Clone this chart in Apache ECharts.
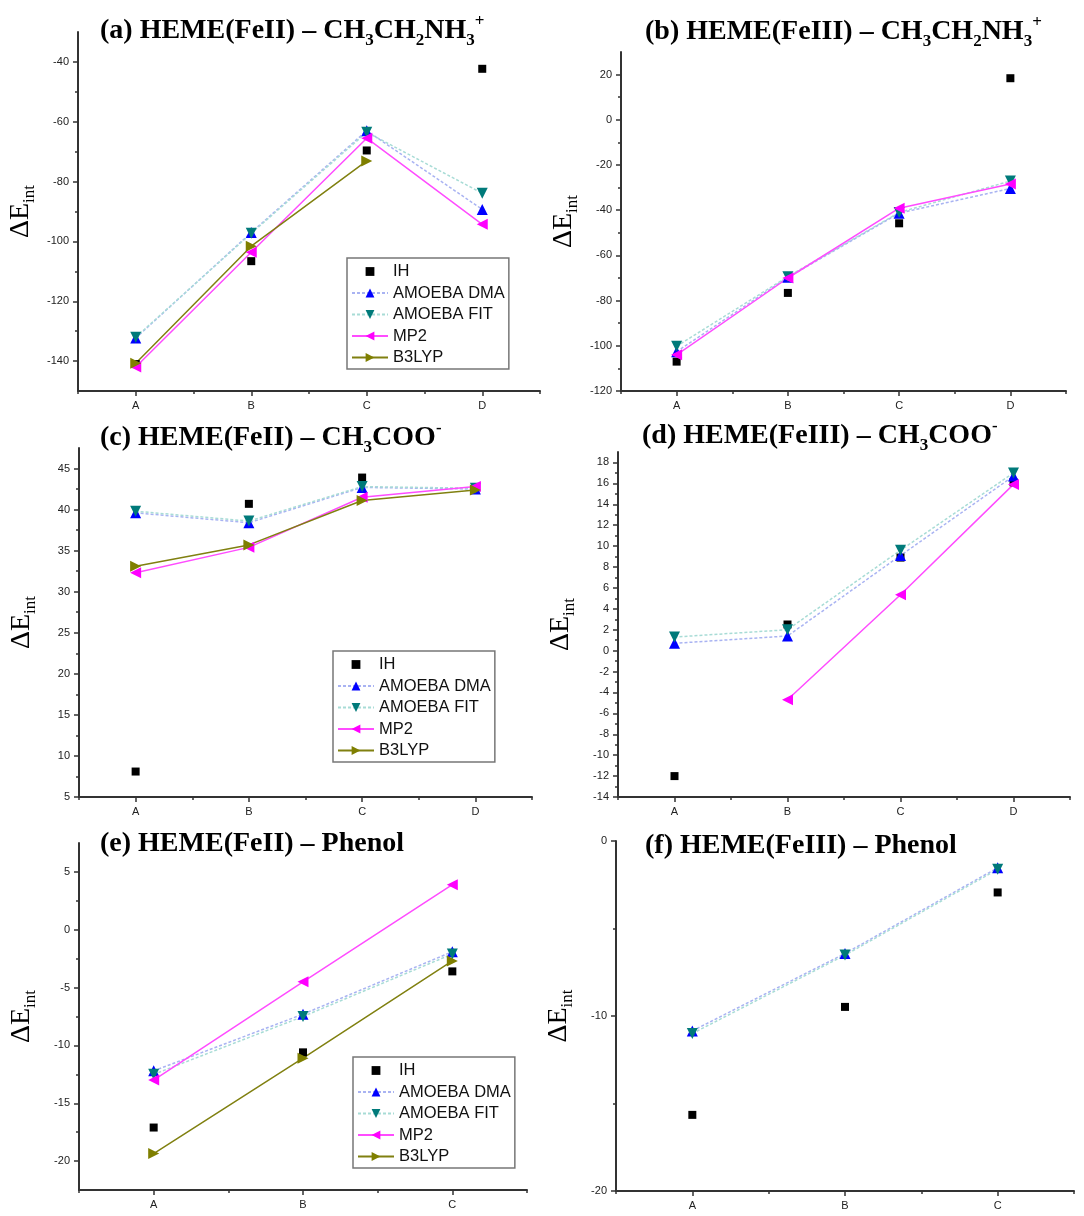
<!DOCTYPE html>
<html>
<head>
<meta charset="utf-8">
<script src="https://cdn.jsdelivr.net/npm/echarts@6/dist/echarts.min.js"></script>
<style>
html,body{margin:0;padding:0;background:#fff;}
#c{width:1084px;height:1216px;}
</style>
</head>
<body>
<div id="c"></div>
<script>
// ---- categories ----
const cats4 = ['A', 'B', 'C', 'D'];
const cats3 = ['A', 'B', 'C'];

// ---- (a) HEME(FeII) – CH3CH2NH3+ ----
const ihA    = [-141.0, -106.6, -69.6, -42.3];
const dmaA   = [-132.3, -97.0, -63.0, -89.3];
const fitA   = [-132.0, -97.3, -63.5, -83.9];
const mp2A   = [-142.0, -103.6, -65.5, -94.3];
const b3lypA = [-140.7, -101.6, -73.1, null];

// ---- (b) HEME(FeIII) – CH3CH2NH3+ ----
const ihB    = [-107.0, -76.6, -45.8, 18.4];
const dmaB   = [-102.6, -69.7, -41.3, -30.4];
const fitB   = [-100.2, -69.4, -41.0, -27.1];
const mp2B   = [-104.0, -70.0, -39.1, -28.4];

// ---- (c) HEME(FeII) – CH3COO- ----
const ihC    = [8.1, 40.7, 43.9, 42.6];
const dmaC   = [39.6, 38.4, 42.7, 42.5];
const fitC   = [39.8, 38.6, 42.8, 42.6];
const mp2C   = [32.3, 35.4, 41.5, 42.8];
const b3lypC = [33.1, 35.7, 41.1, 42.4];

// ---- (d) HEME(FeIII) – CH3COO- ----
const ihD    = [-12.0, 2.5, 8.9, 16.1];
const dmaD   = [0.7, 1.4, 9.1, 16.7];
const fitD   = [1.3, 2.0, 9.6, 17.0];
const mp2D   = [null, -4.7, 5.35, 15.9];

// ---- (e) HEME(FeII) – Phenol ----
const ihE    = [-17.1, -10.6, -3.6];
const dmaE   = [-12.2, -7.3, -1.9];
const fitE   = [-12.5, -7.5, -2.1];
const mp2E   = [-13.0, -4.5, 3.9];
const b3lypE = [-19.35, -11.1, -2.7];

// ---- (f) HEME(FeIII) – Phenol ----
const ihF    = [-15.65, -9.48, -2.94];
const dmaF   = [-10.85, -6.43, -1.53];
const fitF   = [-11.0, -6.52, -1.62];

// ---- y tick labels (major) and minor ticks ----
const yTicksA = [-140, -120, -100, -80, -60, -40];
const yMinorA = [-130, -110, -90, -70, -50];
const yTicksB = [-120, -100, -80, -60, -40, -20, 0, 20];
const yMinorB = [-110, -90, -70, -50, -30, -10, 10];
const yTicksC = [5, 10, 15, 20, 25, 30, 35, 40, 45];
const yMinorC = [7.5, 12.5, 17.5, 22.5, 27.5, 32.5, 37.5, 42.5];
const yTicksD = [-14, -12, -10, -8, -6, -4, -2, 0, 2, 4, 6, 8, 10, 12, 14, 16, 18];
const yMinorD = [-13, -11, -9, -7, -5, -3, -1, 1, 3, 5, 7, 9, 11, 13, 15, 17];
const yTicksE = [-20, -15, -10, -5, 0, 5];
const yMinorE = [-17.5, -12.5, -7.5, -2.5, 2.5];
const yTicksF = [-20, -10, 0];
const yMinorF = [-15, -5];

const seriesNames = ['IH', 'AMOEBA DMA', 'AMOEBA FIT', 'MP2', 'B3LYP'];

// ---- styles ----
const SERIF = 'Liberation Serif, Times New Roman, serif';
const SANS = 'Liberation Sans, Arial, sans-serif';
const AX = '#333';

const seriesStyle = {
  'IH': {symbol: 'rect', size: 8, rot: 0, color: '#000', line: {color: '#000', width: 1, opacity: 0}},
  'AMOEBA DMA': {symbol: 'triangle', size: 11, rot: 0, color: '#0000ff', line: {color: '#a9b3f2', width: 1.5, type: [3, 2]}},
  'AMOEBA FIT': {symbol: 'triangle', size: 11, rot: 180, color: '#007a7a', line: {color: '#a8dcd6', width: 1.5, type: [3, 2]}},
  'MP2': {symbol: 'triangle', size: 11, rot: 90, color: '#ff00ff', line: {color: '#ff4cff', width: 1.5, type: 'solid'}},
  'B3LYP': {symbol: 'triangle', size: 11, rot: -90, color: '#7f7f00', line: {color: '#808010', width: 1.5, type: 'solid'}}
};

const panels = [
  {title: '(a) HEME(FeII) – CH{s|3}CH{s|2}NH{s|3}{p|+}', tl: 100, tt: 13,
   grid: {left: 78, top: 32, width: 462, height: 359}, cats: cats4,
   ymin: -150, ymax: -30, ticks: yTicksA, minor: yMinorA,
   data: {'IH': ihA, 'AMOEBA DMA': dmaA, 'AMOEBA FIT': fitA, 'MP2': mp2A, 'B3LYP': b3lypA},
   legend: {left: 347, top: 258}},
  {title: '(b) HEME(FeIII) – CH{s|3}CH{s|2}NH{s|3}{p|+}', tl: 645, tt: 14,
   grid: {left: 621, top: 52, width: 445, height: 339}, cats: cats4,
   ymin: -120, ymax: 30, ticks: yTicksB, minor: yMinorB,
   data: {'IH': ihB, 'AMOEBA DMA': dmaB, 'AMOEBA FIT': fitB, 'MP2': mp2B}},
  {title: '(c) HEME(FeII) – CH{s|3}COO{p|-}', tl: 100, tt: 420,
   grid: {left: 79, top: 448, width: 453, height: 349}, cats: cats4,
   ymin: 5, ymax: 47.5, ticks: yTicksC, minor: yMinorC,
   data: {'IH': ihC, 'AMOEBA DMA': dmaC, 'AMOEBA FIT': fitC, 'MP2': mp2C, 'B3LYP': b3lypC},
   legend: {left: 333, top: 651}},
  {title: '(d) HEME(FeIII) – CH{s|3}COO{p|-}', tl: 642, tt: 418,
   grid: {left: 618, top: 452, width: 452, height: 345}, cats: cats4,
   ymin: -14, ymax: 19, ticks: yTicksD, minor: yMinorD,
   data: {'IH': ihD, 'AMOEBA DMA': dmaD, 'AMOEBA FIT': fitD, 'MP2': mp2D}},
  {title: '(e) HEME(FeII) – Phenol', tl: 100, tt: 826,
   grid: {left: 79, top: 843, width: 448, height: 347}, cats: cats3,
   ymin: -22.5, ymax: 7.5, ticks: yTicksE, minor: yMinorE,
   data: {'IH': ihE, 'AMOEBA DMA': dmaE, 'AMOEBA FIT': fitE, 'MP2': mp2E, 'B3LYP': b3lypE},
   legend: {left: 353, top: 1057}},
  {title: '(f) HEME(FeIII) – Phenol', tl: 645, tt: 828,
   grid: {left: 616, top: 841, width: 458, height: 350}, cats: cats3,
   ymin: -20, ymax: 0, ticks: yTicksF, minor: yMinorF,
   data: {'IH': ihF, 'AMOEBA DMA': dmaF, 'AMOEBA FIT': fitF}}
];

const titleRich = {
  s: {fontFamily: SERIF, fontWeight: 'bold', fontSize: 17, lineHeight: 17, verticalAlign: 'bottom', color: '#000'},
  p: {fontFamily: SERIF, fontWeight: 'bold', fontSize: 17, lineHeight: 17, verticalAlign: 'top', color: '#000'}
};

const option = {
  backgroundColor: '#fff',
  animation: false,
  title: [], grid: [], xAxis: [], yAxis: [], series: [], legend: []
};

panels.forEach((p, i) => {
  option.title.push({
    text: p.title, left: p.tl, top: p.tt, padding: 0,
    textStyle: {fontFamily: SERIF, fontWeight: 'bold', fontSize: 28, lineHeight: 36, color: '#000', rich: titleRich}
  });
  option.grid.push(Object.assign({containLabel: false}, p.grid));
  // main category axis: ticks at labels
  option.xAxis.push({
    type: 'category', gridIndex: i, data: p.cats, boundaryGap: true,
    axisLine: {show: true, onZero: false, lineStyle: {color: AX, width: 2}},
    axisTick: {show: true, alignWithLabel: true, length: 5, lineStyle: {color: AX, width: 1.5}},
    axisLabel: {fontFamily: SANS, fontSize: 11, color: '#222', margin: 9},
    splitLine: {show: false}
  });
  // overlay: small ticks at category boundaries
  option.xAxis.push({
    type: 'category', gridIndex: i, data: p.cats, boundaryGap: true, position: 'bottom',
    axisLine: {show: false, onZero: false},
    axisTick: {show: true, alignWithLabel: false, length: 3, lineStyle: {color: AX, width: 1.5}},
    axisLabel: {show: false}, splitLine: {show: false}
  });
  option.yAxis.push({
    type: 'value', gridIndex: i, min: p.ymin, max: p.ymax,
    name: '{d|ΔE}{i|int}', nameLocation: 'middle', nameGap: 40,
    nameTextStyle: {
      fontFamily: SERIF, fontSize: 28, lineHeight: 34, color: '#000',
      rich: {
        d: {fontFamily: SERIF, fontSize: 28, lineHeight: 34, color: '#000'},
        i: {fontFamily: SERIF, fontSize: 17, lineHeight: 17, verticalAlign: 'bottom', color: '#000'}
      }
    },
    axisLine: {show: true, onZero: false, lineStyle: {color: AX, width: 2}},
    axisTick: {show: true, length: 5, customValues: p.ticks, lineStyle: {color: AX, width: 1.5}},
    axisLabel: {customValues: p.ticks, fontFamily: SANS, fontSize: 11, color: '#222', margin: 9},
    splitLine: {show: false}
  });
  option.yAxis.push({
    type: 'value', gridIndex: i, min: p.ymin, max: p.ymax, position: 'left',
    axisLine: {show: false, onZero: false},
    axisTick: {show: true, length: 3, customValues: p.minor, lineStyle: {color: AX, width: 1.5}},
    axisLabel: {show: false}, splitLine: {show: false}
  });
  seriesNames.forEach(name => {
    const d = p.data[name];
    if (!d) return;
    const st = seriesStyle[name];
    option.series.push({
      name: name, type: 'line',
      xAxisIndex: 2 * i, yAxisIndex: 2 * i, data: d,
      symbol: st.symbol, symbolSize: st.size, symbolRotate: st.rot,
      itemStyle: {color: st.color},
      lineStyle: st.line,
      showAllSymbol: true, connectNulls: false,
      silent: true
    });
  });
  if (p.legend) {
    option.legend.push({
      orient: 'vertical', left: p.legend.left, top: p.legend.top,
      data: seriesNames,
      itemWidth: 36, itemHeight: 11, itemGap: 4.5,
      padding: [5, 4, 3, 4],
      borderColor: '#777', borderWidth: 1.5, backgroundColor: '#fff',
      textStyle: {fontFamily: SANS, fontSize: 16.5, lineHeight: 16, color: '#111'},
      selectedMode: false
    });
  }
});

const chart = echarts.init(document.getElementById('c'), null, {renderer: 'canvas'});
chart.setOption(option);
</script>
</body>
</html>
